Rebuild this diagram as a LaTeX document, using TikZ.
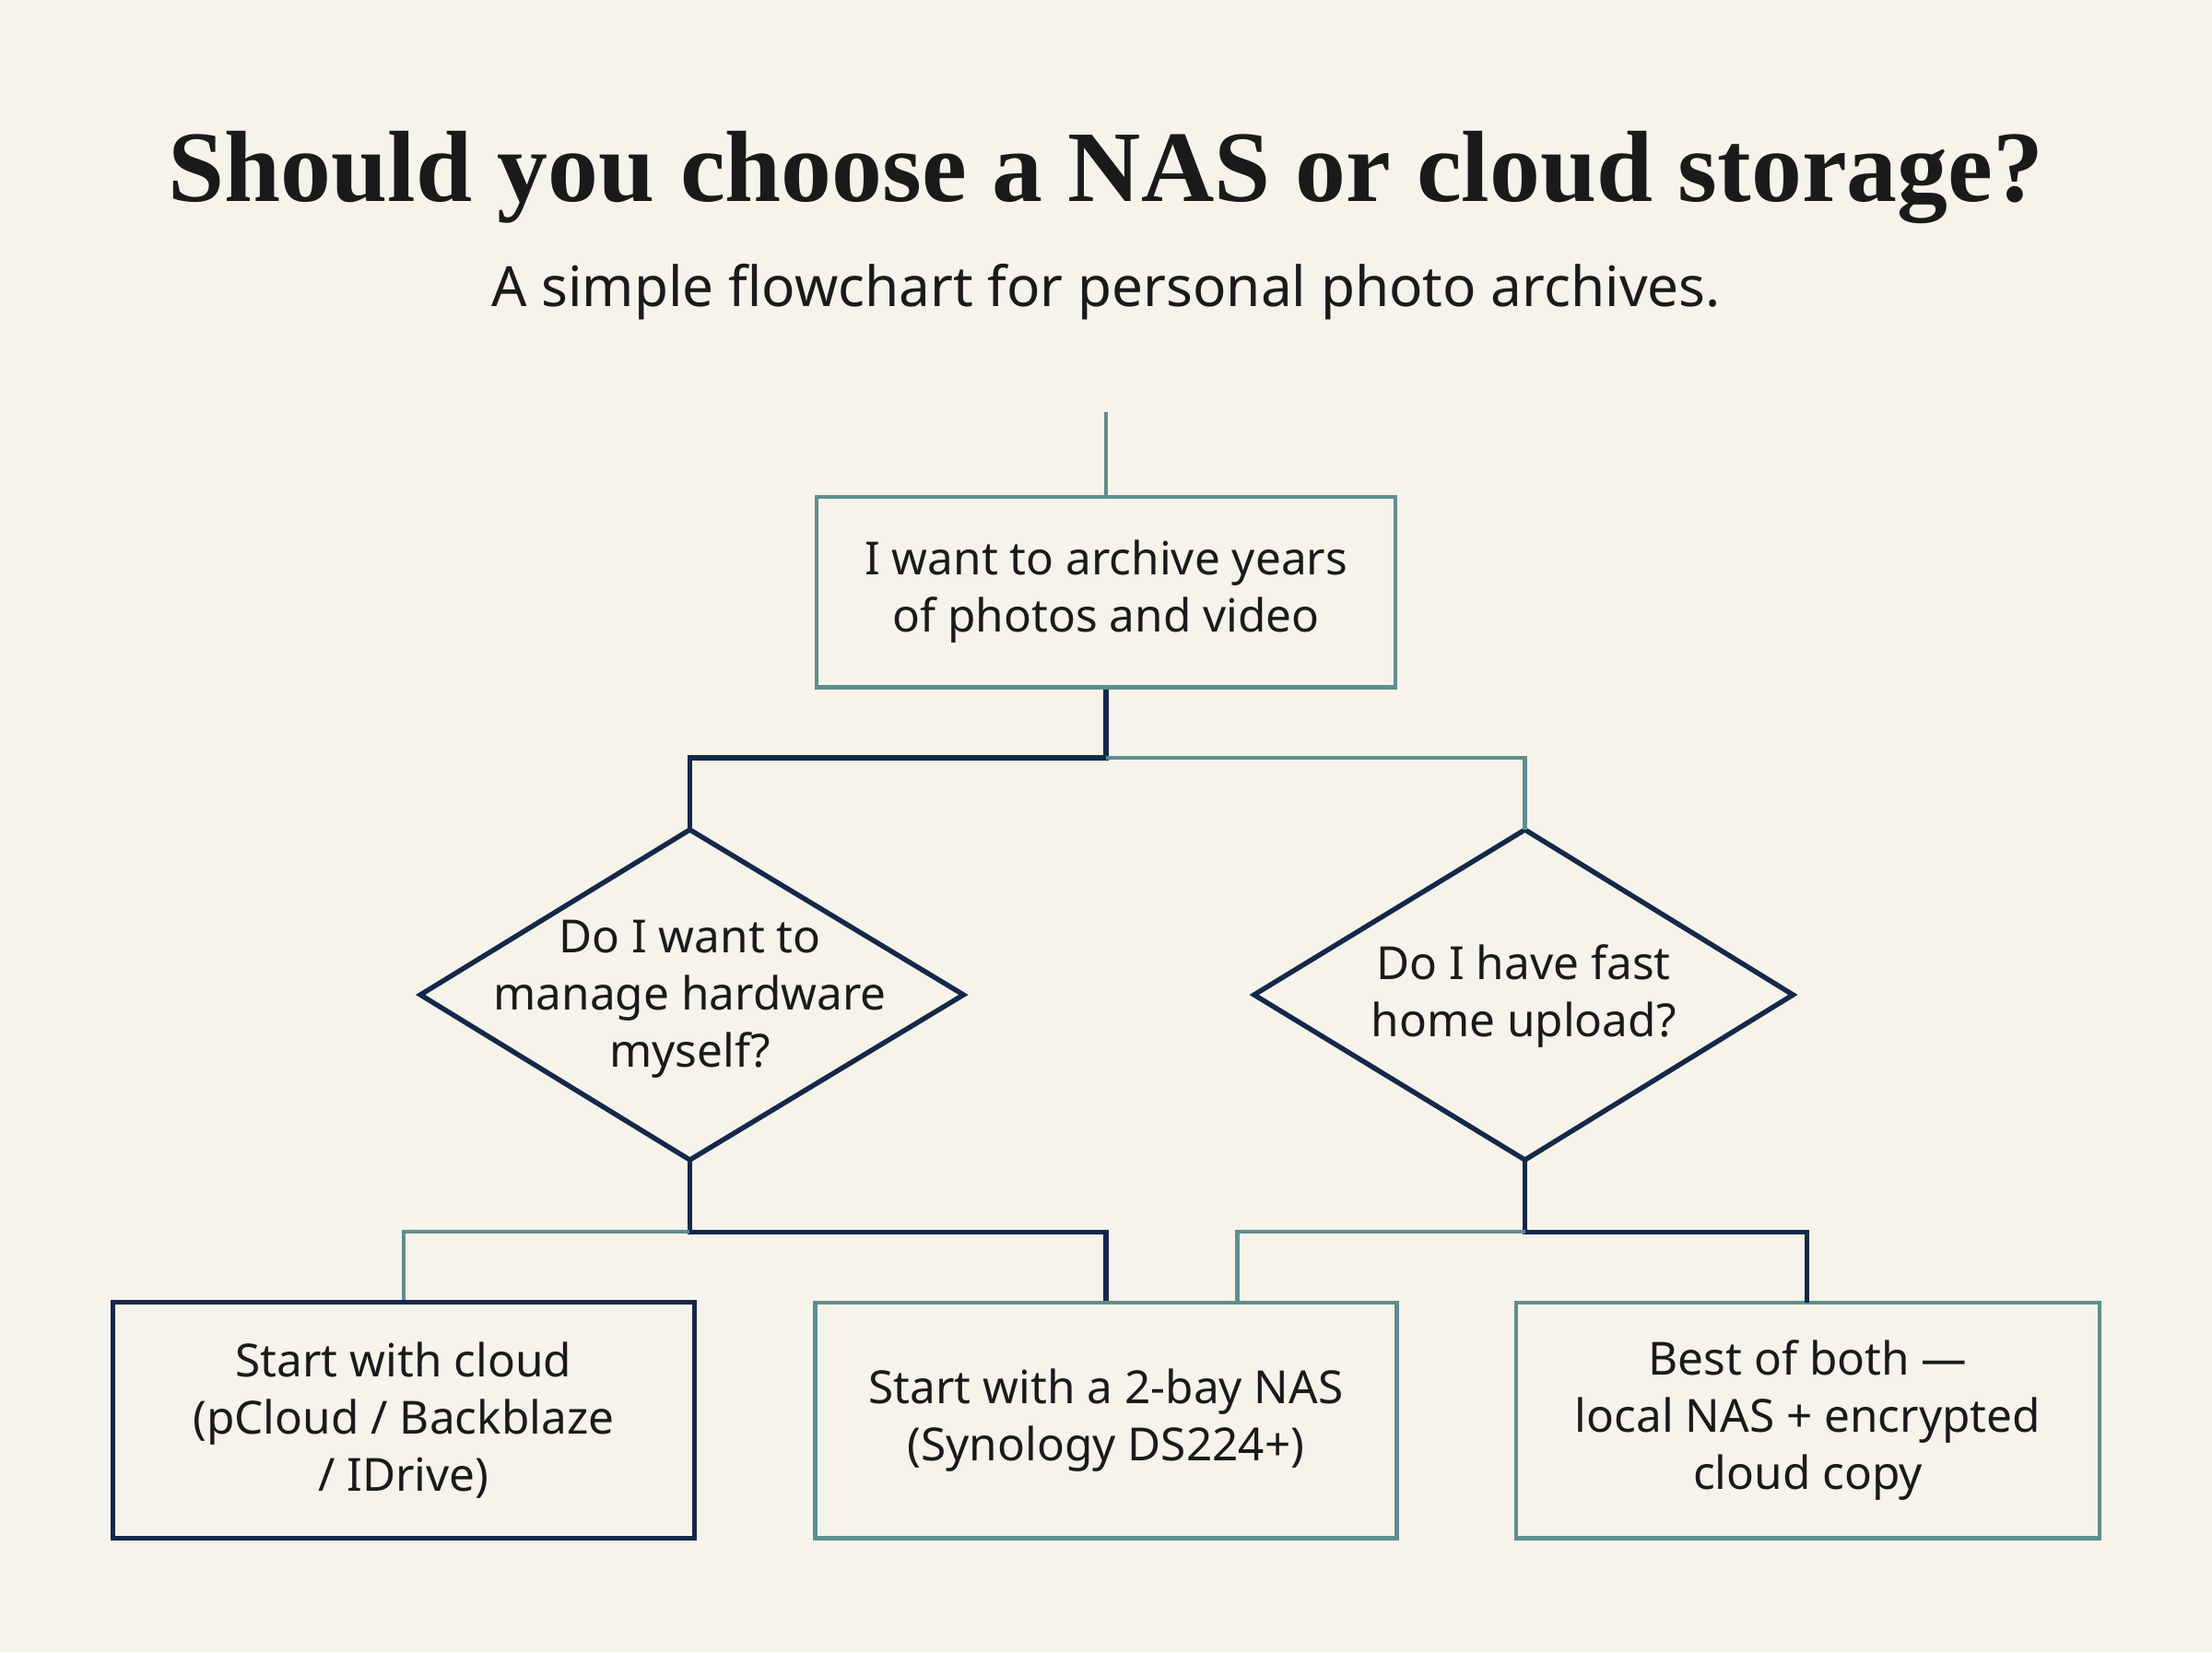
\documentclass[tikz,border=0pt]{standalone}
\usepackage{fontspec}
\setmainfont{Noto Sans}
\newfontfamily\titlefont{Liberation Serif}
\definecolor{bg}{HTML}{F6F3EA}
\definecolor{teal}{HTML}{5F8E8E}
\definecolor{navy}{HTML}{14284A}
\definecolor{ink}{HTML}{1A1A1A}
\tikzset{
 tbox/.style={draw=teal,line width=0.8pt,minimum width=4.1cm,minimum height=1.35cm,align=center,font=\fontsize{9.2}{11.5}\selectfont,text=ink},
 nbox/.style={tbox,draw=navy,line width=1pt},
 dtext/.style={align=center,font=\fontsize{9.2}{11.5}\selectfont,text=ink},
 nl/.style={draw=navy,line width=1pt},
 tl/.style={draw=teal,line width=0.8pt},
}
\begin{document}
\begin{tikzpicture}[x=0.01cm,y=-0.01cm]
\fill[bg] (0,0) rectangle (1568,1171);
\useasboundingbox (0,0) rectangle (1568,1171);
\node[font=\titlefont\bfseries\fontsize{20.4}{23}\selectfont,text=ink] (title) at (784,126) {Should you choose a NAS or cloud storage?};
\node[font=\fontsize{11.2}{13}\selectfont,text=ink] (sub) at (784,207) {A simple flowchart for personal photo archives.};
\node[tbox] (start) at (784,419.5) {I want to archive years\\of photos and video};
\coordinate (top) at (784,292);
% diamond 1
\coordinate (d1n) at (489,588); \coordinate (d1s) at (489,822);
\draw[nl,line join=miter] (d1n) -- (683,705) -- (d1s) -- (298,705) -- cycle;
\node[dtext] (d1) at (489,708) {Do I want to\\manage hardware\\myself?};
% diamond 2
\coordinate (d2n) at (1081,588); \coordinate (d2s) at (1081,822);
\draw[nl,line join=miter] (d2n) -- (1271,705) -- (d2s) -- (889,705) -- cycle;
\node[dtext] (d2) at (1080,706) {Do I have fast\\home upload?};
\node[nbox,minimum width=4.12cm,minimum height=1.67cm] (r1) at (286,1006.5) {Start with cloud\\(pCloud / Backblaze\\/ IDrive)};
\node[tbox,minimum width=4.12cm,minimum height=1.67cm] (r2) at (784,1006.5) {Start with a 2-bay NAS\\(Synology DS224+)};
\node[tbox,minimum width=4.13cm,minimum height=1.67cm] (r3) at (1281.5,1006.5) {Best of both —\\local NAS + encrypted\\cloud copy};
\coordinate (j0) at (784,537);
\coordinate (j1) at (489,873);
\coordinate (j2) at (1081,873);
\draw[tl] (top) -- (start.north);
\draw[nl] (start.south) -- (j0) -- (489,537) -- (d1n);
\draw[tl] (j0) -- (1081,537) -- (d2n);
\draw[nl] (d1s) -- (j1) -- (784,873) -- (r2.north);
\draw[tl] (j1) -- (286,873) -- (r1.north);
\draw[nl] (d2s) -- (j2) -- (1281,873) -- (1281,923);
\draw[tl] (j2) -- (877,873) -- (877,923);
\end{tikzpicture}
\end{document}
